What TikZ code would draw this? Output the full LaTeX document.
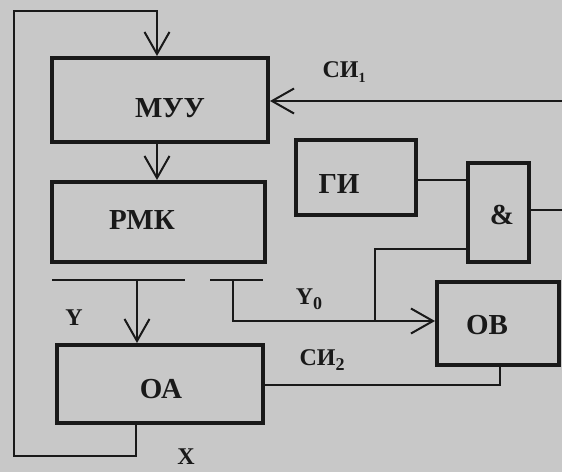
\documentclass[tikz,border=0pt]{standalone}
\usepackage{fontspec}
\setmainfont{Liberation Serif}
\usetikzlibrary{arrows.meta,calc}
\definecolor{bg}{RGB}{200,200,200}
\definecolor{ink}{RGB}{25,25,25}
\newcommand\mysub[1]{\raisebox{-5pt}{\fontsize{18}{18}\selectfont #1}}
\tikzset{
  blk/.style={draw=ink,line width=4pt,rectangle,inner sep=0pt},
  txt/.style={text=ink,font=\bfseries\fontsize{29}{30}\selectfont,inner sep=0pt},
  lbl/.style={text=ink,font=\bfseries\fontsize{24}{26}\selectfont,inner sep=0pt},
  wire/.style={draw=ink,line width=2pt},
  arr/.style={wire,-{Straight Barb[length=22pt,width=25pt,line width=2pt]}},
}
\begin{document}
\begin{tikzpicture}[x=1pt,y=-1pt]
\fill[bg] (0,0) rectangle (562,472);
\useasboundingbox (0,0) rectangle (562,472);
% blocks
\node[blk,minimum width=216pt,minimum height=84pt] (muu) at (160,100) {};
\node[txt] (muut) at (170,108) {МУУ};
\node[blk,minimum width=213pt,minimum height=80pt] (rmk) at (158.5,222) {};
\node[txt] (rmkt) at (142,220) {РМК};
\node[blk,minimum width=120pt,minimum height=75pt] (gi) at (356,177.5) {};
\node[txt] (git) at (339,184) {ГИ};
\node[blk,minimum width=61pt,minimum height=99pt] (and) at (498.5,212.5) {};
\node[txt] (andt) at (502,215) {\&};
\node[blk,minimum width=122pt,minimum height=83pt] (ob) at (498,323.5) {};
\node[txt] (obt) at (487,325) {ОВ};
\node[blk,minimum width=206pt,minimum height=78pt] (oa) at (160,384) {};
\node[txt] (oat) at (161,389) {ОА};
% coordinates
\coordinate (si1in) at (562,101);
\coordinate (andout) at (562,210);
\coordinate (ya) at (52,280);
\coordinate (yb) at (185,280);
\coordinate (yc) at (210,280);
\coordinate (yd) at (263,280);
\coordinate (ytap) at (137,280);
\coordinate (y0tap) at (233,280);
% wires
\draw[arr] (oa.south -| 136,0) -- (136,456) -- (14,456) -- (14,11) -- (157,11) -- (muu.north -| 157,0);
\draw[arr] (muu.south -| 157,0) -- (rmk.north -| 157,0);
\draw[arr] (si1in) -- (muu.east |- si1in);
\draw[wire] (gi.east |- 0,180) -- (and.west |- 0,180);
\draw[wire] (and.east |- andout) -- (andout);
\draw[wire] (ya) -- (yb);
\draw[wire] (yc) -- (yd);
\draw[arr] (ytap) -- (oa.north -| ytap);
\draw[arr] (y0tap) -- (233,321) -- (ob.west |- 0,321);
\draw[wire] (375,321) -- (375,249) -- (and.west |- 0,249);
\draw[wire] (oa.east |- 0,385) -- (500,385) -- (ob.south -| 500,0);
% labels
\node[lbl] (si1) at (344,72) {СИ\raisebox{-5pt}{\fontsize{14}{14}\selectfont 1}};
\node[lbl] (ylbl) at (74,318) {Y};
\node[lbl] (y0) at (309,299) {Y\mysub{0}};
\node[lbl] (si2) at (322,360) {СИ\mysub{2}};
\node[lbl] (xlbl) at (186,457) {X};
\end{tikzpicture}
\end{document}
